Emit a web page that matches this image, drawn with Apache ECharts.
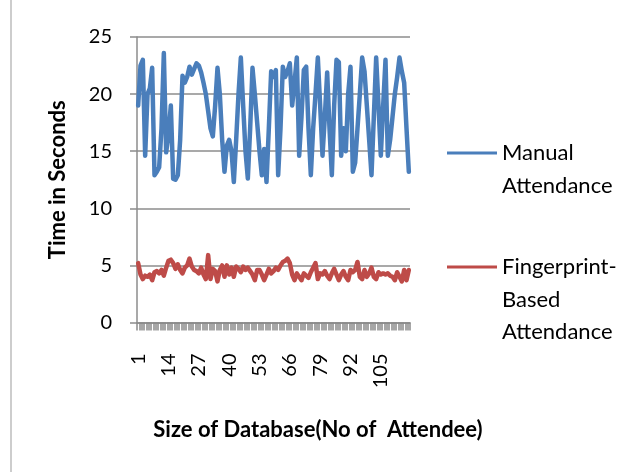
<!DOCTYPE html>
<html>
<head>
<meta charset="utf-8">
<script src="https://cdn.jsdelivr.net/npm/echarts@6/dist/echarts.min.js"></script>
<style>
html,body{margin:0;padding:0;background:#fff;}
#c{width:633px;height:472px;}
</style>
</head>
<body>
<div id="c"></div>
<script>
// ---- data ----
const categories = [];
for (let i = 1; i <= 117; i++) categories.push(String(i));

const manualAttendance = [
  19, 22.5, 23, 14.6, 20, 20.5, 22.3, 12.9, 13.2, 13.6,
  17, 23.6, 14.9, 16.5, 19, 12.6, 12.5, 12.9, 16, 21.6,
  21, 21.5, 22.4, 21.7, 22.2, 22.7, 22.5, 21.9, 21, 20,
  18.5, 17, 16.3, 19, 22.3, 20, 16, 13.2, 15.5, 16,
  15, 12.3, 16, 20, 23.2, 19, 15, 12.6, 17, 22.3,
  20, 17.5, 15, 12.9, 15.2, 12.3, 17, 22, 21.5, 22.1,
  12.9, 17, 22.4, 21.5, 22, 22.7, 19, 21, 23.2, 14.6,
  18, 22.1, 22.4, 17, 12.9, 17, 20, 23.2, 19, 14.6,
  18, 21.9, 17, 12.9, 19, 23, 22.8, 14.6, 17, 15,
  20, 22.4, 13.2, 14, 17, 20, 23.2, 22, 19, 16,
  12.9, 18, 23.2, 19, 14.6, 19, 23, 14.6, 16, 18,
  20, 21.5, 23.2, 22, 21, 17, 13.2
];

const fingerprintAttendance = [
  5.2, 4.2, 3.8, 4.1, 4.0, 4.2, 3.7, 4.4, 4.5, 4.3,
  4.6, 4.1, 4.8, 5.4, 5.5, 5.2, 4.7, 5.1, 4.6, 4.3,
  4.8, 5.0, 5.6, 4.9, 4.6, 4.5, 4.3, 4.8, 4.2, 3.8,
  5.9, 3.8, 4.7, 4.5, 3.6, 4.6, 5.0, 4.0, 5.0, 4.2,
  4.8, 4.0, 4.9, 4.7, 4.4, 4.9, 4.6, 4.8, 4.5, 4.2,
  3.7, 4.6, 4.6, 4.2, 3.7, 4.2, 4.7, 4.3, 4.5, 4.8,
  4.6, 5.0, 5.3, 5.4, 5.6, 5.2, 4.2, 3.7, 4.3, 4.0,
  3.7, 4.3, 4.1, 3.9, 4.4, 4.8, 5.2, 3.8, 4.3, 4.2,
  4.5, 4.1, 3.8, 4.3, 4.7, 4.2, 3.7, 4.2, 4.5, 4.0,
  3.7, 4.6, 4.4, 4.6, 5.3, 4.0, 3.8, 4.6, 4.0, 4.3,
  4.8, 4.0, 3.8, 4.4, 4.2, 4.3, 4.2, 4.3, 4.1, 4.0,
  3.7, 4.4, 4.0, 3.6, 4.6, 3.7, 4.6
];

const yTicks = { min: 0, max: 25, interval: 5 };
const seriesNames = ['Manual Attendance', 'Fingerprint-Based Attendance'];
// leading blank lines keep the first text line level with the legend line sample
const legendLabels = ['\nManual\nAttendance', '\n\nFingerprint-\nBased\nAttendance'];
const xTitle = 'Size of Database(No of  Attendee)';
const yTitle = 'Time in Seconds';

// ---- chart ----
const FONT = 'Lato, "Open Sans", sans-serif';
const LH = 32.5;
const chart = echarts.init(document.getElementById('c'));
const legendBase = {
  orient: 'vertical',
  left: 447,
  padding: 0,
  icon: 'rect',
  itemWidth: 50,
  itemHeight: 3,
  selectedMode: false,
  textStyle: { fontFamily: FONT, fontSize: 22, color: '#000', lineHeight: LH }
};
chart.setOption({
  animation: false,
  backgroundColor: '#fff',
  color: ['#4a7ebb', '#be4b48'],
  graphic: [{
    type: 'line',
    shape: { x1: 11, y1: 0, x2: 11, y2: 472 },
    style: { stroke: '#bdbdbd', lineWidth: 1.5 }
  }],
  legend: [
    Object.assign({}, legendBase, {
      top: 153 - 1.5 * LH,
      data: [seriesNames[0]],
      formatter: () => legendLabels[0]
    }),
    Object.assign({}, legendBase, {
      top: 267 - 2.5 * LH,
      data: [seriesNames[1]],
      formatter: () => legendLabels[1]
    })
  ],
  grid: { left: 137, right: 223, top: 37, bottom: 149.5 },
  xAxis: {
    type: 'category',
    data: categories,
    boundaryGap: true,
    name: xTitle,
    nameLocation: 'middle',
    nameGap: 96,
    nameTextStyle: { fontFamily: FONT, fontSize: 22, fontWeight: 'bold', color: '#000', padding: [0, 0, 0, 89] },
    axisLine: { lineStyle: { color: '#8c8c8c', width: 1.5 } },
    axisTick: { show: true, interval: 0, length: 8, lineStyle: { color: '#8a8a8a', width: 1.5 } },
    axisLabel: { interval: 12, rotate: 90, margin: 31, fontFamily: FONT, fontSize: 20, color: '#000' },
    splitLine: { show: false }
  },
  yAxis: {
    type: 'value',
    min: yTicks.min,
    max: yTicks.max,
    interval: yTicks.interval,
    name: yTitle,
    nameLocation: 'middle',
    nameGap: 68,
    nameRotate: 90,
    nameTextStyle: { fontFamily: FONT, fontSize: 22, fontWeight: 'bold', color: '#000' },
    axisLine: { show: true, lineStyle: { color: '#8c8c8c', width: 1.5 } },
    axisTick: { show: true, length: 7, lineStyle: { color: '#8c8c8c', width: 1.5 } },
    axisLabel: { margin: 25, fontFamily: FONT, fontSize: 20, color: '#000' },
    splitLine: { lineStyle: { color: '#8c8c8c', width: 1.5 } }
  },
  series: [
    {
      name: seriesNames[0],
      type: 'line',
      data: manualAttendance,
      symbol: 'none',
      lineStyle: { width: 4.5, color: '#4a7ebb', join: 'round', cap: 'round' },
      itemStyle: { color: '#4a7ebb' }
    },
    {
      name: seriesNames[1],
      type: 'line',
      data: fingerprintAttendance,
      symbol: 'none',
      lineStyle: { width: 4.5, color: '#be4b48', join: 'round', cap: 'round' },
      itemStyle: { color: '#be4b48' }
    }
  ]
});
</script>
</body>
</html>
